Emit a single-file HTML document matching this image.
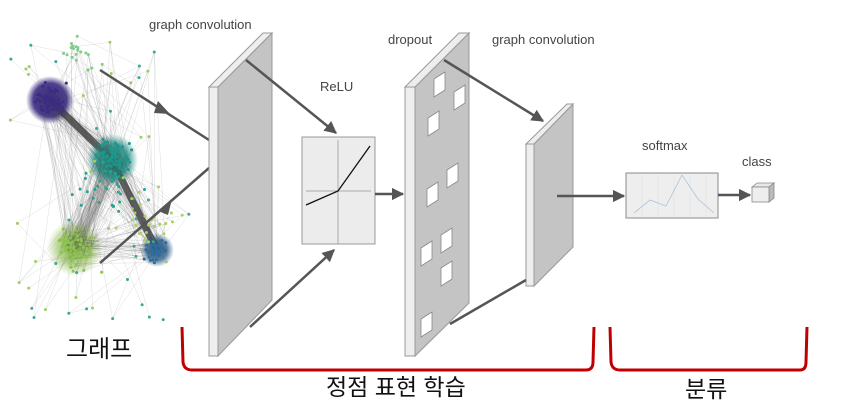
<!DOCTYPE html>
<html><head><meta charset="utf-8"><style>
html,body{margin:0;padding:0;background:#fff;}
svg{display:block}
text{font-family:"Liberation Sans",Arial,sans-serif;fill:#444;font-size:13px}
text.k{font-family:"Liberation Sans","Noto Sans CJK KR","NanumGothic",sans-serif;fill:#111}
</style></head><body>
<svg id="s" width="864" height="413" viewBox="0 0 864 413" xmlns="http://www.w3.org/2000/svg">
<defs>
<marker id="ah" viewBox="0 0 10 10" refX="9" refY="5" markerWidth="5" markerHeight="5" orient="auto-start-reverse"><path d="M0,0 L10,5 L0,10 z" fill="#555"/></marker>
<radialGradient id="gp"><stop offset="0" stop-color="#3a2a80"/><stop offset="0.7" stop-color="#3a2a80" stop-opacity="0.9"/><stop offset="1" stop-color="#3a2a80" stop-opacity="0"/></radialGradient>
<radialGradient id="gt"><stop offset="0" stop-color="#1f8f86"/><stop offset="0.6" stop-color="#1f8f86" stop-opacity="0.85"/><stop offset="1" stop-color="#1f8f86" stop-opacity="0"/></radialGradient>
<radialGradient id="gg"><stop offset="0" stop-color="#88b848"/><stop offset="0.6" stop-color="#88b848" stop-opacity="0.6"/><stop offset="1" stop-color="#88b848" stop-opacity="0"/></radialGradient>
<radialGradient id="gb"><stop offset="0" stop-color="#2d5f8a"/><stop offset="0.6" stop-color="#2d5f8a" stop-opacity="0.8"/><stop offset="1" stop-color="#2d5f8a" stop-opacity="0"/></radialGradient>
</defs>
<g id="graph">
<path d="M50,100 L112,160 L157,250" stroke="#222" stroke-width="7" fill="none" opacity="0.7"/>
<path d="M112,160 L75,248" stroke="#333" stroke-width="14" fill="none" opacity="0.25"/>
<circle cx="50" cy="100" r="24" fill="url(#gp)"/>
<circle cx="112" cy="160" r="26" fill="url(#gt)"/>
<circle cx="75" cy="248" r="28" fill="url(#gg)"/>
<circle cx="157" cy="250" r="17" fill="url(#gb)"/>
</g>
<line x1="100" y1="70" x2="209" y2="140" stroke="#555" stroke-width="2.5"/>
<path d="M158,101 L170,114 L154,113 z" fill="#555"/>
<line x1="100" y1="263" x2="209" y2="168" stroke="#555" stroke-width="2.5"/>
<path d="M158,211 L172,199 L168,215 z" fill="#555"/>
<polygon points="218,87 272,33 272,300 218,356" fill="#c4c4c4" stroke="#999" stroke-width="1"/>
<polygon points="209,87 263,33 272,33 218,87" fill="#eee" stroke="#999" stroke-width="1"/>
<rect x="209" y="87" width="9" height="269" fill="#eee" stroke="#999" stroke-width="1"/>
<text x="149" y="29">graph convolution</text>
<line x1="246" y1="60" x2="336" y2="133" stroke="#555" stroke-width="2.5" marker-end="url(#ah)"/>
<line x1="250" y1="327" x2="334" y2="250" stroke="#555" stroke-width="2.5" marker-end="url(#ah)"/>
<rect x="302" y="137" width="73" height="107" fill="#ececec" stroke="#999"/>
<line x1="338" y1="140" x2="338" y2="244" stroke="#aaa"/>
<line x1="306" y1="191" x2="371" y2="191" stroke="#aaa"/>
<polyline points="306,205 338,191 370,146" fill="none" stroke="#111" stroke-width="1.3"/>
<text x="320" y="91">ReLU</text>
<line x1="375" y1="194" x2="403" y2="194" stroke="#555" stroke-width="2.5" marker-end="url(#ah)"/>
<polygon points="415,87 469,33 469,303 415,356" fill="#c4c4c4" stroke="#999"/>
<polygon points="405,87 459,33 469,33 415,87" fill="#eee" stroke="#999"/>
<rect x="405" y="87" width="10" height="269" fill="#eee" stroke="#999"/>
<g fill="#fff" stroke="#888" stroke-width="0.8">
<polygon points="434,97 434,79 445,72 445,90"/>
<polygon points="454,110 454,92 465,85 465,103"/>
<polygon points="428,136 428,118 439,111 439,129"/>
<polygon points="447,188 447,170 458,163 458,181"/>
<polygon points="427,207 427,189 438,182 438,200"/>
<polygon points="441,253 441,235 452,228 452,246"/>
<polygon points="421,266 421,248 432,241 432,259"/>
<polygon points="441,286 441,268 452,261 452,279"/>
<polygon points="421,337 421,319 432,312 432,330"/>
</g>
<text x="388" y="44">dropout</text>
<text x="492" y="44">graph convolution</text>
<line x1="444" y1="60" x2="543" y2="121" stroke="#555" stroke-width="2.5" marker-end="url(#ah)"/>
<polygon points="534,144 573,104 573,247 534,286" fill="#c4c4c4" stroke="#999"/>
<polygon points="526,144 567,104 573,104 534,144" fill="#eee" stroke="#999"/>
<rect x="526" y="144" width="8" height="142" fill="#eee" stroke="#999"/>
<line x1="450" y1="324" x2="526" y2="280" stroke="#555" stroke-width="2.5"/>
<line x1="557" y1="196" x2="624" y2="196" stroke="#555" stroke-width="2.5" marker-end="url(#ah)"/>
<rect x="626" y="173" width="92" height="45" fill="#eee" stroke="#888"/>
<g stroke="#ddd" stroke-width="0.5"><line x1="642" y1="175" x2="642" y2="216"/><line x1="658" y1="175" x2="658" y2="216"/><line x1="674" y1="175" x2="674" y2="216"/><line x1="690" y1="175" x2="690" y2="216"/><line x1="706" y1="175" x2="706" y2="216"/></g>
<polyline points="634,213 650,200 666,206 682,175 698,199 714,213" fill="none" stroke="#a8c4dc" stroke-width="0.8"/>
<text x="642" y="150">softmax</text>
<line x1="718" y1="195" x2="750" y2="195" stroke="#555" stroke-width="2.5" marker-end="url(#ah)"/>
<polygon points="752,187 757,183 774,183 769,187" fill="#e8e8e8" stroke="#888" stroke-width="0.8"/>
<polygon points="769,187 774,183 774,198 769,202" fill="#bbb" stroke="#888" stroke-width="0.8"/>
<rect x="752" y="187" width="17" height="15" fill="#eee" stroke="#888" stroke-width="0.8"/>
<text x="742" y="166">class</text>
<path d="M182,327 L183,362 Q184,370 192,370 L586,370 Q593,370 593,362 L594,327" fill="none" stroke="#c00000" stroke-width="3"/>
<path d="M610,327 L611,362 Q612,370 620,370 L800,370 Q806,370 806,362 L807,327" fill="none" stroke="#c00000" stroke-width="3"/>
<text class="k" x="66" y="357" style="font-size:24px">그래프</text>
<text class="k" x="326" y="395" style="font-size:23px">정점 표현 학습</text>
<text class="k" x="685" y="397" style="font-size:23px">분류</text>
</svg>
<script>
(function(){
var s=1234567;function r(){s=(s*16807)%2147483647;return s/2147483647;}
function g(){return (r()+r()+r()-1.5)/1.5;}
var NS="http://www.w3.org/2000/svg",G=document.getElementById("graph");
var cl=[[50,100,12,"#3d2c84",60],[112,160,14,"#20968a",80],[75,248,16,"#8dc24e",70],[157,250,9,"#2f6c9c",40],[80,50,15,"#7fcf8a",20],[110,190,30,"#2aa08e",30],[150,210,30,"#a7d25c",25]];
var pts=[];
cl.forEach(function(c){for(var i=0;i<c[4];i++){pts.push([c[0]+g()*c[2]*1.8,c[1]+g()*c[2]*1.8,c[3]]);}});
for(var i=0;i<50;i++){pts.push([10+r()*180,40+r()*280,r()<0.5?"#9bd060":"#3aa896"]);}
var f=document.createDocumentFragment();
for(var i=0;i<700;i++){var a=pts[Math.floor(r()*pts.length)],b=pts[Math.floor(r()*pts.length)];
var dx=a[0]-b[0],dy=a[1]-b[1];if(dx*dx+dy*dy>12000&&r()<0.6)continue;
var l=document.createElementNS(NS,"line");l.setAttribute("x1",a[0]);l.setAttribute("y1",a[1]);l.setAttribute("x2",b[0]);l.setAttribute("y2",b[1]);
l.setAttribute("stroke","#444");l.setAttribute("stroke-width","0.4");l.setAttribute("opacity","0.22");f.appendChild(l);}
pts.forEach(function(p){var c=document.createElementNS(NS,"circle");c.setAttribute("cx",p[0]);c.setAttribute("cy",p[1]);c.setAttribute("r","1.5");c.setAttribute("fill",p[2]);f.appendChild(c);});
G.appendChild(f);
})();
</script>
</body></html>
